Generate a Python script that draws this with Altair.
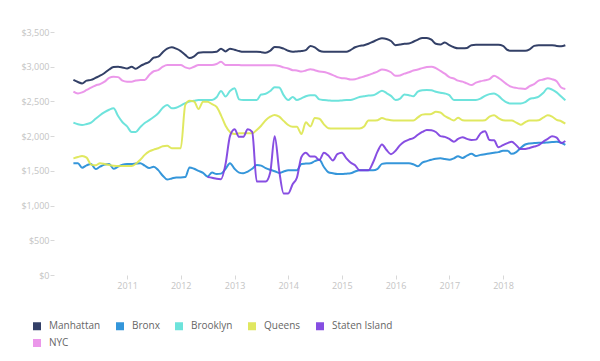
import altair as alt
import pandas as pd

boroughs = ["Manhattan", "Bronx", "Brooklyn", "Queens", "Staten Island", "NYC"]
colors = ["#1d2b57", "#1f8bd6", "#5ee0d8", "#dde54f", "#7a3bdf", "#e98ce8"]

# monthly, Jan 2010 .. Mar 2019
dates = pd.date_range("2010-01-01", periods=111, freq="MS")

manhattan = [
    2810, 2780, 2760, 2800, 2810, 2840, 2870, 2910, 2960, 2995, 3000, 2990,
    2975, 3000, 2970, 3010, 3040, 3070, 3130, 3145, 3210, 3260, 3280, 3260,
    3225, 3170, 3125, 3150, 3200, 3210, 3210, 3210, 3215, 3260, 3220, 3260,
    3245, 3225, 3215, 3215, 3215, 3215, 3210, 3200, 3230, 3285, 3280, 3260,
    3230, 3215, 3220, 3225, 3240, 3300, 3280, 3230, 3215, 3215, 3215, 3215,
    3215, 3215, 3240, 3280, 3300, 3310, 3330, 3360, 3390, 3410, 3400, 3370,
    3310, 3320, 3330, 3335, 3360, 3390, 3415, 3415, 3390, 3330, 3320, 3350,
    3310, 3280, 3265, 3265, 3270, 3310, 3315, 3315, 3315, 3315, 3315, 3315,
    3300, 3240, 3230, 3230, 3230, 3230, 3250, 3300, 3310, 3310, 3310, 3310,
    3300, 3295, 3310,
]
bronx = [
    1610, 1610, 1545, 1580, 1600, 1525, 1560, 1590, 1600, 1530, 1560, 1590,
    1600, 1600, 1605, 1610, 1575, 1540, 1560, 1510, 1430, 1375, 1390, 1405,
    1405, 1410, 1550, 1530, 1500, 1470, 1420, 1475, 1455, 1460, 1530, 1610,
    1530, 1475, 1465, 1490, 1530, 1585, 1575, 1540, 1515, 1495, 1470, 1490,
    1510, 1510, 1510, 1600, 1605, 1610, 1640, 1660, 1555, 1480, 1465, 1455,
    1455, 1460, 1465, 1490, 1510, 1510, 1510, 1510, 1530, 1600, 1610, 1610,
    1610, 1610, 1610, 1610, 1595, 1565, 1620, 1640, 1660, 1675, 1680, 1670,
    1660, 1680, 1710, 1685, 1720, 1745, 1715, 1730, 1740, 1750, 1760, 1770,
    1790, 1790, 1745, 1770, 1830, 1880, 1895, 1900, 1905, 1905, 1910, 1915,
    1920, 1905, 1875,
]
brooklyn = [
    2195, 2170, 2160, 2175, 2195, 2250, 2300, 2345, 2380, 2400, 2290, 2200,
    2140, 2060, 2060, 2130, 2190, 2230, 2275, 2330, 2410, 2450, 2400, 2410,
    2440, 2475, 2500, 2510, 2520, 2520, 2520, 2520, 2560, 2650, 2570, 2650,
    2690, 2530, 2520, 2520, 2520, 2520, 2600, 2610, 2650, 2705, 2700, 2590,
    2520, 2565, 2520, 2545, 2575, 2590, 2590, 2530, 2520, 2515, 2510, 2510,
    2515, 2520, 2520, 2540, 2565, 2575, 2585, 2590, 2620, 2655, 2620, 2580,
    2520, 2540, 2600, 2590, 2575, 2640, 2660, 2665, 2660, 2640, 2625, 2615,
    2590, 2520, 2520, 2520, 2520, 2520, 2520, 2540, 2580, 2605, 2615, 2580,
    2520, 2480, 2470, 2470, 2470, 2490, 2535, 2550, 2570, 2620, 2690, 2670,
    2630, 2570, 2515,
]
queens = [
    1680, 1700, 1715, 1690, 1590, 1580, 1610, 1600, 1585, 1575, 1570, 1570,
    1570, 1570, 1600, 1660, 1730, 1780, 1805, 1825, 1855, 1860, 1825, 1825,
    1825, 2450, 2510, 2500, 2390, 2495, 2495, 2460, 2420, 2300, 2150, 2060,
    2030, 2040, 2040, 2040, 2040, 2090, 2150, 2230, 2280, 2305, 2280, 2220,
    2160, 2135, 2135, 2030, 2200, 2140, 2260, 2250, 2170, 2115, 2110, 2110,
    2110, 2110, 2110, 2110, 2110, 2140, 2225, 2225, 2230, 2260, 2240, 2230,
    2225, 2225, 2225, 2225, 2225, 2270, 2310, 2315, 2320, 2350, 2340, 2290,
    2255, 2225, 2265, 2230, 2225, 2225, 2225, 2225, 2230, 2280, 2300, 2260,
    2230, 2225, 2225, 2195, 2165, 2200, 2225, 2225, 2230, 2265, 2300, 2280,
    2235, 2215, 2180,
]
staten_island = [
    None, None, None, None, None, None, None, None, None, None, None, None,
    None, None, None, None, None, None, None, None, None, None, None, None,
    None, None, None, None, None, None, 1410, 1400, 1385, 1380, 1600, 2000,
    2100, 1990, 1990, 2100, 2060, 1345, 1345, 1345, 1480, 2000, 1500, 1175,
    1175, 1310, 1400, 1700, 1760, 1705, 1705, 1655, 1760, 1720, 1650, 1740,
    1760, 1680, 1620, 1580, 1510, 1510, 1510, 1620, 1780, 1880, 1800, 1740,
    1790, 1870, 1920, 1950, 1970, 2020, 2060, 2090, 2085, 2060, 2000, 1990,
    1960, 1920, 1960, 1985, 1960, 1945, 1950, 2040, 2070, 1945, 1940, 1840,
    1870, 1900, 1920, 1870, 1815, 1815, 1830, 1850, 1870, 1920, 1960, 2000,
    1980, 1900, 1930,
]
nyc = [
    2640, 2615, 2630, 2665, 2700, 2730, 2750, 2785, 2840, 2855, 2850, 2800,
    2785, 2785, 2800, 2810, 2810, 2880, 2935, 2950, 3000, 3025, 3025, 3025,
    3025, 2990, 2975, 3000, 3025, 3025, 3025, 3025, 3040, 3070, 3025, 3025,
    3025, 3025, 3020, 3020, 3020, 3020, 3020, 3020, 3020, 3020, 3010, 2990,
    2975, 2950, 2945, 2930, 2945, 2965, 2950, 2930, 2925, 2905, 2880, 2850,
    2835, 2830, 2815, 2820, 2840, 2860, 2880, 2905, 2930, 2960, 2950, 2920,
    2870, 2875, 2900, 2920, 2945, 2960, 2980, 2995, 3000, 2980, 2940, 2900,
    2850, 2830, 2800, 2785, 2760, 2735, 2770, 2790, 2805, 2820, 2870, 2840,
    2790, 2740, 2710, 2695, 2685, 2680, 2720, 2750, 2800, 2815, 2835, 2820,
    2790, 2700, 2680,
]

y_ticks = [0, 500, 1000, 1500, 2000, 2500, 3000, 3500]
x_tick_years = [2011, 2012, 2013, 2014, 2015, 2016, 2017, 2018]

series = dict(zip(boroughs, [manhattan, bronx, brooklyn, queens, staten_island, nyc]))
rows = []
for name, vals in series.items():
    for d, v in zip(dates, vals):
        if v is not None:
            rows.append({"date": d.strftime("%Y-%m-%d"), "borough": name, "value": v})
df = pd.DataFrame(rows)

FONT = "Open Sans"

chart = alt.Chart(df).mark_line(strokeWidth=2, interpolate="monotone", opacity=0.9).encode(
    x=alt.X(
        "date:T",
        scale=alt.Scale(domain=[alt.DateTime(year=2009, month=8, date=22),
                                alt.DateTime(year=2019, month=7, date=6)]),
        axis=alt.Axis(
            values=[alt.DateTime(year=y, month=1, date=1) for y in x_tick_years],
            format="%Y", title=None, domain=False, grid=False,
            tickSize=4, tickColor="#d8d8d8", labelColor="#c4c4c4",
            labelFont=FONT, labelFontSize=9, labelPadding=2,
        ),
    ),
    y=alt.Y(
        "value:Q",
        scale=alt.Scale(domain=[0, 3500], nice=False),
        axis=alt.Axis(
            values=y_ticks, format="$,.0f", title=None, domain=False, grid=False,
            tickSize=4, tickColor="#d8d8d8", labelColor="#c4c4c4",
            labelFont=FONT, labelFontSize=9, labelPadding=1,
        ),
    ),
    color=alt.Color(
        "borough:N",
        scale=alt.Scale(domain=boroughs, range=colors),
        sort=boroughs,
        legend=alt.Legend(
            title=None, orient="none", direction="horizontal",
            legendX=-22, legendY=289, columns=5,
            symbolType="square", symbolSize=9, symbolStrokeWidth=5,
            labelFont=FONT, labelFontSize=10, labelColor="#666666",
            columnPadding=7, rowPadding=-7, labelOffset=7, padding=0,
        ),
    ),
).properties(
    width=530, height=243,
    autosize=alt.AutoSizeParams(type="none"),
    padding={"left": 46, "top": 24, "right": 8, "bottom": 78},
).configure_view(stroke=None)

chart.save("out.html", embed_options={"renderer": "svg", "actions": False})
